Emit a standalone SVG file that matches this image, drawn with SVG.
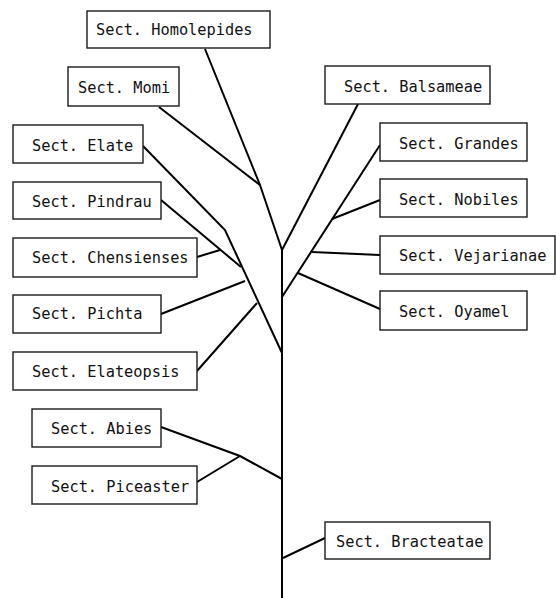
<svg xmlns="http://www.w3.org/2000/svg" width="556" height="598" viewBox="0 0 556 598">
<style>
.box{fill:#fff;stroke:#1a1a1a;stroke-width:1.4}
.lbl{font-family:"DejaVu Sans Mono","Liberation Mono",monospace;font-size:15.3px;fill:#111}
.ln{fill:none;stroke:#000;stroke-width:2;stroke-linejoin:miter}
</style>
<rect width="556" height="598" fill="#fff"/>
<g id="connectors">
<polyline class="ln" points="282,250 282,598"/>
<polyline class="ln" points="205,49 260,185 282,250"/>
<polyline class="ln" points="159,107 260,185"/>
<polyline class="ln" points="143,146 225,230 282,353"/>
<polyline class="ln" points="161,200 241,267"/>
<polyline class="ln" points="197,257 220,250"/>
<polyline class="ln" points="161,314 245,281"/>
<polyline class="ln" points="197,371 257,303"/>
<polyline class="ln" points="358,104 282,250"/>
<polyline class="ln" points="380,145 282,297"/>
<polyline class="ln" points="380,200 332,219"/>
<polyline class="ln" points="380,255 312,252"/>
<polyline class="ln" points="380,309 298,273"/>
<polyline class="ln" points="161,427 240,456 282,479"/>
<polyline class="ln" points="197,482 240,456"/>
<polyline class="ln" points="283,558 325,538"/>
</g>
<g id="homolepides"><rect class="box" x="87" y="11" width="183" height="37"/><text class="lbl" x="96" y="35">Sect. Homolepides</text></g>
<g id="momi"><rect class="box" x="68" y="67" width="111" height="39"/><text class="lbl" x="78" y="93">Sect. Momi</text></g>
<g id="elate"><rect class="box" x="13" y="125" width="130" height="38"/><text class="lbl" x="32" y="151">Sect. Elate</text></g>
<g id="pindrau"><rect class="box" x="13" y="182" width="148" height="37"/><text class="lbl" x="32" y="207">Sect. Pindrau</text></g>
<g id="chensienses"><rect class="box" x="13" y="238" width="184" height="39"/><text class="lbl" x="32" y="263">Sect. Chensienses</text></g>
<g id="pichta"><rect class="box" x="13" y="295" width="148" height="38"/><text class="lbl" x="32" y="319">Sect. Pichta</text></g>
<g id="elateopsis"><rect class="box" x="13" y="352" width="184" height="38"/><text class="lbl" x="32" y="377">Sect. Elateopsis</text></g>
<g id="abies"><rect class="box" x="32" y="409" width="129" height="38"/><text class="lbl" x="51" y="434">Sect. Abies</text></g>
<g id="piceaster"><rect class="box" x="32" y="466" width="165" height="38"/><text class="lbl" x="51" y="492">Sect. Piceaster</text></g>
<g id="balsameae"><rect class="box" x="325" y="66" width="165" height="38"/><text class="lbl" x="344" y="92">Sect. Balsameae</text></g>
<g id="grandes"><rect class="box" x="380" y="123" width="147" height="38"/><text class="lbl" x="399" y="149">Sect. Grandes</text></g>
<g id="nobiles"><rect class="box" x="380" y="179" width="147" height="38"/><text class="lbl" x="399" y="205">Sect. Nobiles</text></g>
<g id="vejarianae"><rect class="box" x="380" y="236" width="175" height="38"/><text class="lbl" x="399" y="261">Sect. Vejarianae</text></g>
<g id="oyamel"><rect class="box" x="380" y="291" width="147" height="39"/><text class="lbl" x="399" y="317">Sect. Oyamel</text></g>
<g id="bracteatae"><rect class="box" x="325" y="522" width="165" height="37"/><text class="lbl" x="336" y="547">Sect. Bracteatae</text></g>
</svg>
